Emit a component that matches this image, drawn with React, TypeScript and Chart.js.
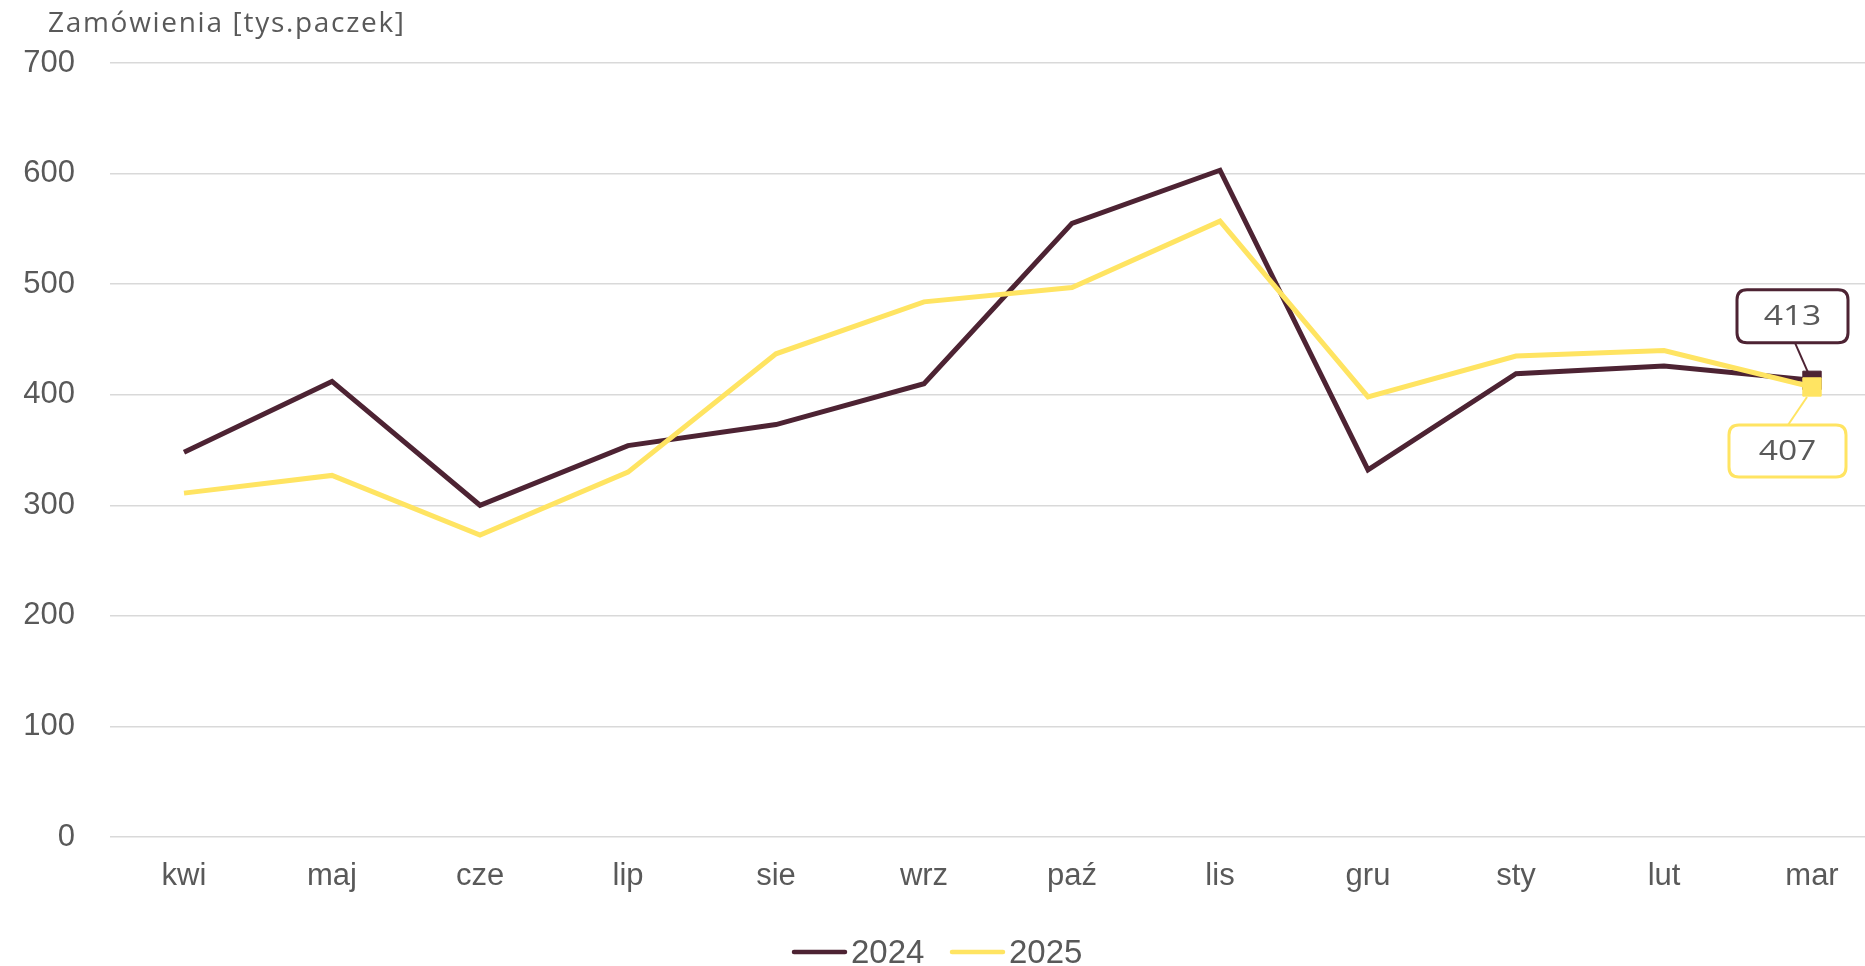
import React, { useEffect, useRef } from "react";
import { Chart, registerables } from "chart.js";

Chart.register(...registerables);

const categories = ["kwi", "maj", "cze", "lip", "sie", "wrz", "paź", "lis", "gru", "sty", "lut", "mar"];
const series2024 = [348, 412, 300, 354, 373, 410, 555, 603, 332, 419, 426, 413];
const series2025 = [311, 327, 273, 330, 437, 484, 497, 557, 398, 435, 440, 407];
const seriesNames = ["2024", "2025"];
const seriesColors = ["#4D2333", "#FFE462"];
const yMin = 0;
const yMax = 700;
const yStep = 100;
const titleText = "Zamówienia [tys.paczek]";

const TEXT_COLOR = "#595959";

function stretchedCenterText(ctx: CanvasRenderingContext2D, text: string, x: number, y: number, stretch: number) {
  ctx.save();
  ctx.setTransform(stretch, 0, 0, 1, x, y);
  ctx.textAlign = "center";
  ctx.fillText(text, 0, 0);
  ctx.restore();
}

function roundRect(ctx: CanvasRenderingContext2D, x: number, y: number, w: number, h: number, r: number) {
  ctx.beginPath();
  ctx.moveTo(x + r, y);
  ctx.lineTo(x + w - r, y);
  ctx.quadraticCurveTo(x + w, y, x + w, y + r);
  ctx.lineTo(x + w, y + h - r);
  ctx.quadraticCurveTo(x + w, y + h, x + w - r, y + h);
  ctx.lineTo(x + r, y + h);
  ctx.quadraticCurveTo(x, y + h, x, y + h - r);
  ctx.lineTo(x, y + r);
  ctx.quadraticCurveTo(x, y, x + r, y);
  ctx.closePath();
}

const decorPlugin = {
  id: "decor",
  afterDatasetsDraw(chart: any) {
    const ctx: CanvasRenderingContext2D = chart.ctx;
    const callouts = [
      { ds: 0, dx: -19.5, dy: -64, w: 111, h: 53, lx: 2.5, ly: 26.5, px: -4, py: -8 },
      { ds: 1, dx: -24.5, dy: 64, w: 117, h: 52, lx: 0.5, ly: -26, px: -5, py: 10 },
    ];
    callouts.forEach((c) => {
      const meta = chart.getDatasetMeta(c.ds);
      const idx = meta.data.length - 1;
      const pt = meta.data[idx];
      const value = chart.data.datasets[c.ds].data[idx];
      const cx = pt.x + c.dx;
      const cy = pt.y + c.dy;
      ctx.save();
      ctx.strokeStyle = seriesColors[c.ds];
      ctx.lineWidth = 2;
      ctx.beginPath();
      ctx.moveTo(cx + c.lx, cy + c.ly);
      ctx.lineTo(pt.x + c.px, pt.y + c.py);
      ctx.stroke();
      roundRect(ctx, cx - c.w / 2, cy - c.h / 2, c.w, c.h, 10);
      ctx.fillStyle = "#ffffff";
      ctx.fill();
      ctx.lineWidth = 3;
      ctx.stroke();
      ctx.fillStyle = TEXT_COLOR;
      ctx.font = "28px 'Open Sans'";
      ctx.textBaseline = "middle";
      stretchedCenterText(ctx, String(value), cx, cy + 1, 1.2);
      ctx.restore();
    });
  },
  afterDraw(chart: any) {
    const ctx: any = chart.ctx;
    ctx.save();
    const items = [
      { x: 792, name: seriesNames[0], color: seriesColors[0] },
      { x: 950, name: seriesNames[1], color: seriesColors[1] },
    ];
    items.forEach((it) => {
      ctx.strokeStyle = it.color;
      ctx.lineWidth = 4.5;
      ctx.lineCap = "round";
      ctx.beginPath();
      ctx.moveTo(it.x + 2, 952);
      ctx.lineTo(it.x + 53, 952);
      ctx.stroke();
      ctx.fillStyle = TEXT_COLOR;
      ctx.font = "33px 'Liberation Sans'";
      ctx.textBaseline = "alphabetic";
      ctx.textAlign = "left";
      ctx.fillText(it.name, it.x + 59, 963);
    });
    ctx.restore();
  },
};

export default function App() {
  const canvasRef = useRef<HTMLCanvasElement | null>(null);

  useEffect(() => {
    const canvas = canvasRef.current;
    if (!canvas) return;
    const lastIdx = categories.length - 1;
    const chart = new Chart(canvas, {
      type: "line",
      data: {
        labels: categories,
        datasets: [
          {
            label: seriesNames[0],
            data: series2024,
            borderColor: seriesColors[0],
            backgroundColor: seriesColors[0],
            borderWidth: 5,
            pointStyle: "rect",
            pointRadius: (c: any) => (c.dataIndex === lastIdx ? 13 : 0),
            pointBorderWidth: 1,
            pointHoverRadius: 0,
            tension: 0,
            order: 1,
          },
          {
            label: seriesNames[1],
            data: series2025,
            borderColor: seriesColors[1],
            backgroundColor: seriesColors[1],
            borderWidth: 5,
            pointStyle: "rect",
            pointRadius: (c: any) => (c.dataIndex === lastIdx ? 13 : 0),
            pointBorderWidth: 1,
            pointHoverRadius: 0,
            tension: 0,
            order: 0,
          },
        ],
      },
      options: {
        responsive: false,
        animation: false,
        devicePixelRatio: 1,
        layout: { autoPadding: false, padding: { top: 63, right: 4, bottom: 0, left: 0 } },
        plugins: {
          legend: { display: false },
          title: { display: false },
          tooltip: { enabled: false },
        },
        scales: {
          x: {
            type: "category",
            offset: true,
            grid: { display: false, drawTicks: false },
            border: { display: false },
            ticks: {
              color: TEXT_COLOR,
              font: { family: "'Liberation Sans'", size: 31 },
              padding: 21,
              maxRotation: 0,
              autoSkip: false,
            },
            afterFit: (s: any) => {
              s.height = 129;
            },
          },
          y: {
            min: yMin,
            max: yMax,
            grid: { color: "#d9d9d9", lineWidth: 1.5, drawTicks: false },
            border: { display: false },
            ticks: {
              stepSize: yStep,
              color: TEXT_COLOR,
              font: { family: "'Liberation Sans'", size: 31 },
              padding: 35,
            },
            afterFit: (s: any) => {
              s.width = 110;
            },
          },
        },
      },
      plugins: [decorPlugin],
    } as any);
    return () => chart.destroy();
  }, []);

  return (
    <div style={{ position: "fixed", left: 0, top: 0, width: 1865, height: 966, overflow: "hidden", background: "#fff" }}>
      <canvas ref={canvasRef} width={1890} height={966} style={{ display: "block", width: 1890, height: 966 }} />
      <div
        style={{
          position: "absolute",
          left: 48,
          top: 7,
          fontFamily: "'Open Sans', sans-serif",
          fontSize: 28,
          lineHeight: 1,
          letterSpacing: "1.7px",
          color: TEXT_COLOR,
          whiteSpace: "nowrap",
        }}
      >
        {titleText}
      </div>
    </div>
  );
}
